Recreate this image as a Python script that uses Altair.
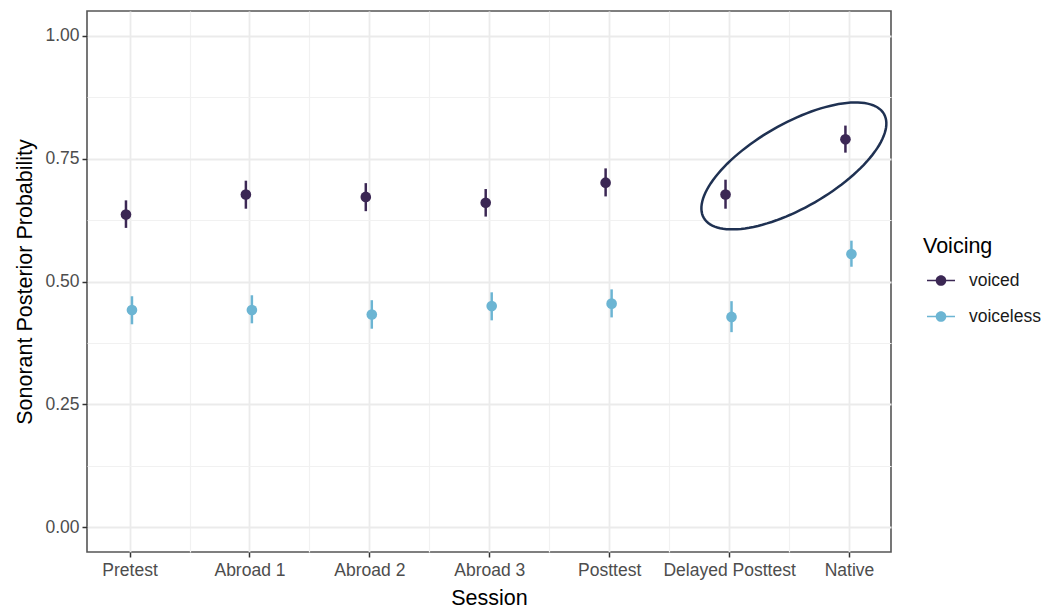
import json
import altair as alt
import pandas as pd

# ---------------- data ----------------
sessions = ["Pretest", "Abroad 1", "Abroad 2", "Abroad 3", "Posttest",
            "Delayed Posttest", "Native"]
voicing_levels = ["voiced", "voiceless"]

voiced_mean = [0.636, 0.677, 0.672, 0.660, 0.701, 0.677, 0.789]
voiced_lo = [0.609, 0.648, 0.643, 0.632, 0.673, 0.648, 0.762]
voiced_hi = [0.665, 0.705, 0.700, 0.688, 0.730, 0.707, 0.817]

voiceless_mean = [0.442, 0.442, 0.433, 0.450, 0.455, 0.428, 0.556]
voiceless_lo = [0.413, 0.415, 0.404, 0.421, 0.427, 0.397, 0.530]
voiceless_hi = [0.470, 0.472, 0.462, 0.478, 0.484, 0.460, 0.583]

# ---------------- styling / layout ----------------
colors = ["#3b2754", "#6cb5d3"]
dodge = {"voiced": -0.03, "voiceless": 0.02}

W, H = 804, 541
x_domain = [-0.355, 6.35]
y_domain = [-0.05, 1.05]

# annotation ellipse (centre in data units, semi-axes in px, rotation deg)
ell_cx, ell_cy = 5.54, 0.735
ell_a, ell_b, ell_rot = 104, 42, 30
ell_color = "#1f3152"

FONT = "Liberation Sans"

# ---------------- build table ----------------
rows = []
for i, s in enumerate(sessions):
    rows.append(dict(session=s, idx=i, voicing="voiced", mean=voiced_mean[i],
                     lo=voiced_lo[i], hi=voiced_hi[i]))
    rows.append(dict(session=s, idx=i, voicing="voiceless", mean=voiceless_mean[i],
                     lo=voiceless_lo[i], hi=voiceless_hi[i]))
df = pd.DataFrame(rows)
df["xpos"] = df["idx"] + df["voicing"].map(dodge)

x_values = [i * 0.5 for i in range(2 * len(sessions) - 1)]
y_values = [i * 0.125 for i in range(9)]

names_js = json.dumps(sessions)
x_axis = alt.Axis(
    values=x_values,
    labelExpr=f"datum.value % 1 === 0 ? {names_js}[datum.value] : ''",
    title="Session",
    grid=True,
    gridColor={"condition": {"test": "datum.value % 1 !== 0", "value": "#f1f1f1"}, "value": "#ebebeb"},
    gridWidth={"condition": {"test": "datum.value % 1 !== 0", "value": 1.2}, "value": 1.8},
    tickOpacity={"condition": {"test": "datum.value % 1 !== 0", "value": 0}, "value": 1},
    labelPadding=4,
    titlePadding=8.5,
    labelFlush=False,
    labelOverlap=False,
)
y_axis = alt.Axis(
    values=y_values,
    labelExpr="(datum.value * 4) % 1 !== 0 ? '' : format(datum.value, '.2f')",
    title="Sonorant Posterior Probability",
    grid=True,
    gridColor={"condition": {"test": "(datum.value * 4) % 1 !== 0", "value": "#f1f1f1"}, "value": "#ebebeb"},
    gridWidth={"condition": {"test": "(datum.value * 4) % 1 !== 0", "value": 1.2}, "value": 1.8},
    tickOpacity={"condition": {"test": "(datum.value * 4) % 1 !== 0", "value": 0}, "value": 1},
    labelPadding=3,
    titlePadding=8,
    labelOverlap=False,
)


def X(field):
    return alt.X(f"{field}:Q", scale=alt.Scale(domain=x_domain, nice=False, zero=False),
                 axis=x_axis, title="Session")


def Y(field):
    return alt.Y(f"{field}:Q", scale=alt.Scale(domain=y_domain, nice=False, zero=False),
                 axis=y_axis, title="Sonorant Posterior Probability")


legend_path = ("M-1,-0.047H-0.375V0.047H-1Z "
               "M0.38,0A0.38,0.38,0,1,1,-0.38,0A0.38,0.38,0,1,1,0.38,0Z "
               "M0.375,-0.047H1V0.047H0.375Z")

color_enc = alt.Color(
    "voicing:N",
    scale=alt.Scale(domain=voicing_levels, range=colors),
    legend=alt.Legend(
        title="Voicing", orient="none", legendX=836, legendY=225,
        symbolType=legend_path, symbolSize=784, symbolStrokeWidth=0,
        symbolOffset=4, labelOffset=14, rowPadding=13, titlePadding=9,
        titleFontSize=21.5, titleFontWeight="normal", titleColor="#000000",
        titleFont=FONT, labelFont=FONT, labelFontSize=17.5, labelColor="#1a1a1a",
    ),
)

base = alt.Chart(df)
bars = base.mark_rule(strokeWidth=2.5).encode(
    x=X("xpos"), y=Y("lo"), y2="hi:Q", color=color_enc)
points = base.mark_point(filled=True, size=113, opacity=1, shape="circle").encode(
    x=X("xpos"), y=Y("mean"), color=color_enc)

kx = W / (x_domain[1] - x_domain[0])
ky = H / (y_domain[1] - y_domain[0])
ellipse = alt.Chart(alt.sequence(0, 361, 3, as_="t")).transform_calculate(
    xpos=f"{ell_cx} + ({ell_a}*cos(datum.t*PI/180)*cos({ell_rot}*PI/180) - "
         f"{ell_b}*sin(datum.t*PI/180)*sin({ell_rot}*PI/180)) / {kx}",
    mean=f"{ell_cy} + ({ell_a}*cos(datum.t*PI/180)*sin({ell_rot}*PI/180) + "
         f"{ell_b}*sin(datum.t*PI/180)*cos({ell_rot}*PI/180)) / {ky}",
).mark_line(color=ell_color, strokeWidth=2.5).encode(
    x=X("xpos"), y=Y("mean"), order="t:Q")

chart = alt.layer(bars, points, ellipse).properties(
    width=W, height=H,
    padding={"left": 79, "top": 3, "right": 160, "bottom": 56},
    autosize=alt.AutoSizeParams(type="none"),
).configure(
    font=FONT,
).configure_view(
    stroke="#555555", strokeWidth=1.6,
).configure_axis(
    domain=False, tickColor="#333333", tickWidth=1.5, tickSize=5,
    labelColor="#4d4d4d", labelFontSize=17.5, labelFont=FONT,
    titleFontSize=21.5, titleFont=FONT, titleColor="#000000", titleFontWeight="normal",
)

chart.save("out.html", embed_options={"renderer": "svg", "actions": False})
